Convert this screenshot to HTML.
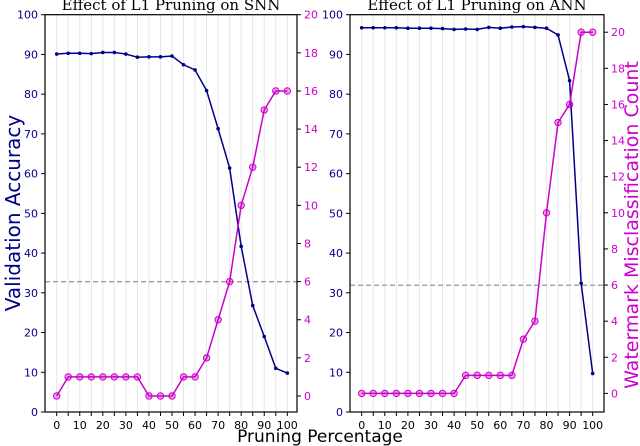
<!DOCTYPE html>
<html><head><meta charset="utf-8">
<style>
html,body{margin:0;padding:0;background:#fff;}
svg{display:block;font-family:"DejaVu Sans","Liberation Sans",sans-serif;}
</style></head>
<body>
<svg id="chart" width="640" height="446" viewBox="0 0 640 446" xmlns="http://www.w3.org/2000/svg"></svg>
<script>
const xCats = [0,5,10,15,20,25,30,35,40,45,50,55,60,65,70,75,80,85,90,95,100];
const xTicks = [0,10,20,30,40,50,60,70,80,90,100];
const accTicks = [0,10,20,30,40,50,60,70,80,90,100];
const snnAcc = [90.1,90.3,90.3,90.2,90.5,90.5,90.1,89.3,89.4,89.4,89.6,87.4,86.1,80.9,71.3,61.4,41.7,26.8,19.0,11.0,9.8];
const snnWm = [0,1,1,1,1,1,1,1,0,0,0,1,1,2,4,6,10,12,15,16,16];
const annAcc = [96.7,96.7,96.7,96.7,96.6,96.6,96.6,96.5,96.3,96.4,96.3,96.8,96.6,96.9,97.0,96.8,96.6,94.9,83.4,32.4,9.7];
const annWm = [0,0,0,0,0,0,0,0,0,1,1,1,1,1,3,4,10,15,16,20,20];
const snnThreshold = 32.8;
const annThreshold = 31.9;
const snnWmTicks = [0,2,4,6,8,10,12,14,16,18,20];
const annWmTicks = [0,2,4,6,8,10,12,14,16,18,20];

const NS='http://www.w3.org/2000/svg';
const svg=document.getElementById('chart');
function mk(tag,attrs,parent){const e=document.createElementNS(NS,tag);for(const k in attrs)e.setAttribute(k,attrs[k]);(parent||svg).appendChild(e);return e;}
const BLUE='#00008b', MAG='#cc00cc';

function panel(p){
  const g=mk('g',{});
  
  
  const xs=v=>p.x0+(v-0)/100*(p.x100-p.x0);
  const ya=v=>p.bottom-(v-0)/100*(p.bottom-p.top);
  const yw=v=>p.bottom-(v-p.wMin)/(p.wMax-p.wMin)*(p.bottom-p.top);
  xCats.forEach(c=>{const l=mk('line',{x1:xs(c),x2:xs(c),y1:p.top,y2:p.bottom,stroke:'#e6e6e6','stroke-width':1},g);
    });
  const th=mk('line',{x1:p.left,x2:p.right,y1:ya(p.th),y2:ya(p.th),stroke:'#999','stroke-width':1.3,'stroke-dasharray':'5,3'},g);
  
  const fr=mk('rect',{x:p.left,y:p.top,width:p.right-p.left,height:p.bottom-p.top,fill:'none',stroke:'#000','stroke-width':1.2},g);
  
  xCats.forEach(c=>{mk('line',{x1:xs(c),x2:xs(c),y1:p.bottom,y2:p.bottom+4,stroke:'#000'},g);});
  xTicks.forEach(t=>{const tx=mk('text',{x:xs(t),y:p.bottom+17,'text-anchor':'middle','font-size':11,fill:'#000'},g);tx.textContent=t;
    });
  accTicks.forEach(t=>{mk('line',{x1:p.left-4,x2:p.left,y1:ya(t),y2:ya(t),stroke:'#000'},g);
    const tx=mk('text',{x:p.left-7,y:ya(t)+4,'text-anchor':'end','font-size':11,fill:BLUE},g);tx.textContent=t;
    });
  p.wTicks.forEach(t=>{mk('line',{x1:p.right,x2:p.right+4,y1:yw(t),y2:yw(t),stroke:'#000'},g);
    const tx=mk('text',{x:p.right+7,y:yw(t)+4,'text-anchor':'start','font-size':11,fill:MAG},g);tx.textContent=t;
    });
  const ap=mk('polyline',{points:xCats.map((c,i)=>xs(c)+','+ya(p.acc[i])).join(' '),fill:'none',stroke:BLUE,'stroke-width':1.5},g);
  
  xCats.forEach((c,i)=>{const m=mk('circle',{cx:xs(c),cy:ya(p.acc[i]),r:1.8,fill:BLUE},g);
    });
  const wp=mk('polyline',{points:xCats.map((c,i)=>xs(c)+','+yw(p.wm[i])).join(' '),fill:'none',stroke:MAG,'stroke-width':1.5},g);
  
  xCats.forEach((c,i)=>{const m=mk('circle',{cx:xs(c),cy:yw(p.wm[i]),r:3.2,fill:'rgba(204,0,204,0.35)',stroke:MAG,'stroke-width':1},g);
    });
  const t=mk('text',{x:(p.left+p.right)/2,y:10,'text-anchor':'middle','font-size':15,'font-family':'"DejaVu Serif","Liberation Serif",serif',fill:'#000'},g);
  t.textContent=p.title;
}
panel({name:'snn-panel',title:'Effect of L1 Pruning on SNN',left:45,right:297,top:14.7,bottom:412,x0:56.7,x100:287.3,wMin:-0.84,wMax:20,wTicks:snnWmTicks,acc:snnAcc,wm:snnWm,th:snnThreshold});
panel({name:'ann-panel',title:'Effect of L1 Pruning on ANN',left:350,right:604,top:14.7,bottom:412,x0:361.7,x100:592.7,wMin:-1.03,wMax:20.97,wTicks:annWmTicks,acc:annAcc,wm:annWm,th:annThreshold});

const yl=mk('text',{x:0,y:0,transform:'translate(20,213) rotate(-90)','text-anchor':'middle','font-size':20,fill:BLUE});
yl.textContent='Validation Accuracy';
const yr=mk('text',{x:0,y:0,transform:'translate(638,225) rotate(-90)','text-anchor':'middle','font-size':19,fill:MAG});
yr.textContent='Watermark Misclassification Count';
const xl=mk('text',{x:320,y:442,'text-anchor':'middle','font-size':17,fill:'#000'});
xl.textContent='Pruning Percentage';
</script>
</body></html>
